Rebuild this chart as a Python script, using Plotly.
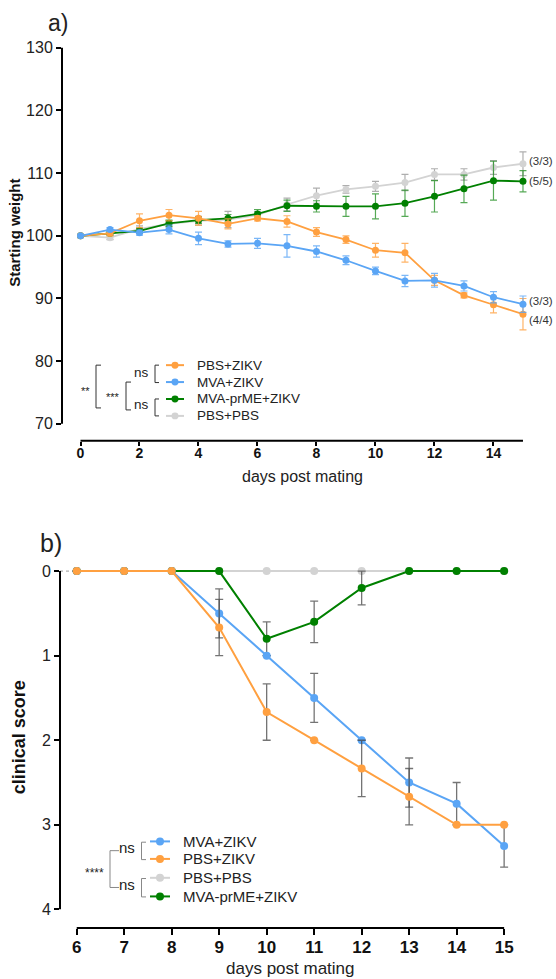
import plotly.graph_objects as go

W, H = 556, 979
FONT = "Liberation Sans, Arial, sans-serif"

# ---------------- panel a: body weight ----------------
days_a = list(range(16))
pbs_zikv_a = [100, 100.4, 102.4, 103.3, 102.8, 101.9, 102.8, 102.3, 100.6, 99.4, 97.7, 97.3, 92.9, 90.5, 89.0, 87.5]
pbs_zikv_a_sem = [0, 0.4, 1.1, 0.9, 1.1, 0.8, 0.4, 0.9, 0.7, 0.6, 1.1, 1.5, 0.8, 0.4, 1.3, 2.5]
mva_zikv_a = [100, 101.0, 100.5, 101.0, 99.6, 98.7, 98.8, 98.4, 97.5, 96.1, 94.4, 92.8, 92.9, 92.0, 90.2, 89.1]
mva_zikv_a_sem = [0, 0.3, 0.4, 0.7, 1.0, 0.5, 0.8, 1.8, 0.9, 0.7, 0.6, 0.9, 1.1, 0.8, 0.9, 1.3]
mva_prme_a = [100, 100.4, 100.8, 102.0, 102.5, 102.8, 103.5, 104.8, 104.7, 104.7, 104.7, 105.2, 106.3, 107.5, 108.8, 108.7]
mva_prme_a_sem = [0, 0.3, 0.4, 0.5, 0.5, 0.6, 0.7, 0.9, 0.9, 1.6, 2.0, 2.1, 2.5, 2.2, 3.1, 1.7]
pbs_pbs_a = [100, 99.7, 101.1, 101.9, 102.4, 102.6, 103.3, 105.0, 106.4, 107.4, 107.9, 108.5, 109.8, 109.8, 110.9, 111.5]
pbs_pbs_a_sem = [0, 0.3, 0.5, 0.5, 0.7, 1.3, 0.6, 1.0, 1.2, 0.6, 0.8, 1.3, 0.9, 0.9, 1.1, 1.9]
yticks_a = [70, 80, 90, 100, 110, 120, 130]
xticks_a = [0, 2, 4, 6, 8, 10, 12, 14]
survivors_a = ["(3/3)", "(5/5)", "(3/3)", "(4/4)"]
survivor_label_y = [111.9, 108.7, 89.6, 86.6]

# ---------------- panel b: clinical score ----------------
days_b = list(range(6, 16))
mva_zikv_b = [0, 0, 0, 0.5, 1.0, 1.5, 2.0, 2.5, 2.75, 3.25]
mva_zikv_b_sem = [0, 0, 0, 0.29, 0, 0.29, 0, 0.29, 0.25, 0.25]
pbs_zikv_b = [0, 0, 0, 0.667, 1.667, 2.0, 2.333, 2.667, 3.0, 3.0]
pbs_zikv_b_sem = [0, 0, 0, 0.333, 0.333, 0, 0.333, 0.333, 0, 0]
pbs_pbs_b = [0, 0, 0, 0, 0, 0, 0, 0, 0, 0]
mva_prme_b = [0, 0, 0, 0, 0.8, 0.6, 0.2, 0, 0, 0]
mva_prme_b_sem = [0, 0, 0, 0, 0.2, 0.245, 0.2, 0, 0, 0]
yticks_b = [0, 1, 2, 3, 4]
xticks_b = list(range(6, 16))

ORANGE = "#FFA040"
BLUE = "#5AA5F5"
GREEN = "#008000"
GREY = "#D3D3D3"


def px(x):
    return x / W


def py(y):
    return 1 - y / H


fig = go.Figure()


def add_a(y, sem, color, err_color):
    fig.add_trace(go.Scatter(
        x=days_a, y=y, mode="lines+markers", xaxis="x", yaxis="y",
        line=dict(color=color, width=1.8),
        marker=dict(color=color, size=7),
        error_y=dict(type="data", array=sem, color=err_color, thickness=1.2, width=3.5),
        cliponaxis=False, showlegend=False))


add_a(pbs_pbs_a, pbs_pbs_a_sem, GREY, "rgba(165,165,165,0.9)")
add_a(mva_prme_a, mva_prme_a_sem, GREEN, "rgba(30,140,30,0.75)")
add_a(pbs_zikv_a, pbs_zikv_a_sem, ORANGE, "rgba(255,160,64,0.8)")
add_a(mva_zikv_a, mva_zikv_a_sem, BLUE, "rgba(90,165,245,0.8)")


def add_b(y, sem, color):
    err = None
    if sem is not None:
        err = dict(type="data", array=sem, color="rgba(70,70,70,0.75)", thickness=1.3, width=4)
    fig.add_trace(go.Scatter(
        x=days_b, y=y, mode="lines+markers", xaxis="x2", yaxis="y2",
        line=dict(color=color, width=2),
        marker=dict(color=color, size=8),
        error_y=err, cliponaxis=False, showlegend=False))


add_b(pbs_pbs_b, None, GREY)
add_b(mva_prme_b, mva_prme_b_sem, GREEN)
add_b(mva_zikv_b, mva_zikv_b_sem, BLUE)
add_b(pbs_zikv_b, pbs_zikv_b_sem, ORANGE)

# axis frames: left edge at tick column, bottom edge at detached x-axis
xa_dom = [px(62), px(527.4)]
ya_dom = [py(438), py(40)]
xb_dom = [px(60), px(516)]
yb_dom = [py(927.7), py(560)]

tick_common = dict(showgrid=False, zeroline=False, showline=False, ticks="outside",
                   tickcolor="black", tickwidth=1.5)

fig.update_layout(
    width=W, height=H, margin=dict(l=0, r=0, t=0, b=0),
    paper_bgcolor="white", plot_bgcolor="white",
    font=dict(family=FONT, color="#222"),
    xaxis=dict(domain=xa_dom, anchor="y", range=[-0.627, 15.15], tickvals=xticks_a,
               ticklen=4, ticklabelstandoff=-5,
               tickfont=dict(size=14, color="#111", weight="bold"), **tick_common),
    yaxis=dict(domain=ya_dom, anchor="x", range=[67.3, 130.48], tickvals=yticks_a,
               ticklen=5, tickfont=dict(size=16, color="#222"), **tick_common),
    xaxis2=dict(domain=xb_dom, anchor="y2", range=[5.648, 15.25], tickvals=xticks_b,
                ticklen=6, ticklabelstandoff=-2,
                tickfont=dict(size=17, color="#111", weight="bold"), **tick_common),
    yaxis2=dict(domain=yb_dom, anchor="x2", range=[4.22, -0.106], tickvals=yticks_b,
                ticklen=5, tickfont=dict(size=16, color="#222"), **tick_common),
)

shapes = []
# detached axis lines
shapes.append(dict(type="line", xref="x domain", yref="y", x0=0, x1=0, y0=70, y1=130,
                   line=dict(color="black", width=2)))
shapes.append(dict(type="line", xref="x", yref="y domain", x0=0, x1=15, y0=0, y1=0,
                   line=dict(color="black", width=2)))
shapes.append(dict(type="line", xref="x2 domain", yref="y2", x0=0, x1=0, y0=0, y1=4,
                   line=dict(color="black", width=2)))
shapes.append(dict(type="line", xref="x2", yref="y2 domain", x0=6, x1=15, y0=0, y1=0,
                   line=dict(color="black", width=2)))
# dotted baseline at score 0
shapes.append(dict(type="line", xref="x2", yref="y2", x0=5.648, x1=15, y0=0, y1=0,
                   layer="below", line=dict(color="#9a9a9a", width=1, dash="dot")))

annotations = []


def text(x, y, s, size, anchor="center", bold=False, color="#222", angle=0):
    annotations.append(dict(
        x=px(x), y=py(y), xref="paper", yref="paper", text=s, showarrow=False,
        xanchor=anchor, yanchor="middle", textangle=angle,
        font=dict(family=FONT, size=size, color=color, weight="bold" if bold else "normal")))


def legend_rows(names, colors, rows, x0, x1, tx, size, msize):
    for name, col, yy in zip(names, colors, rows):
        shapes.append(dict(type="line", xref="paper", yref="paper",
                           x0=px(x0), x1=px(x1), y0=py(yy), y1=py(yy),
                           line=dict(color=col, width=2)))
        r = msize / 2
        cx = (x0 + x1) / 2
        shapes.append(dict(type="circle", xref="paper", yref="paper",
                           x0=px(cx - r), x1=px(cx + r), y0=py(yy + r), y1=py(yy - r),
                           fillcolor=col, line=dict(color=col, width=0)))
        text(tx, yy, name, size, anchor="left")


def bracket(x, y0, y1, tick, color, width=1):
    path = f"M {px(x + tick)},{py(y0)} L {px(x)},{py(y0)} L {px(x)},{py(y1)} L {px(x + tick)},{py(y1)}"
    shapes.append(dict(type="path", xref="paper", yref="paper", path=path,
                       line=dict(color=color, width=width)))


# panel a legend and significance brackets
legend_names_a = ["PBS+ZIKV", "MVA+ZIKV", "MVA-prME+ZIKV", "PBS+PBS"]
legend_colors_a = [ORANGE, BLUE, GREEN, GREY]
legend_rows(legend_names_a, legend_colors_a, [362, 379, 396, 413], 166, 184, 195, 13.5, 7)
bracket(155, 362, 379.5, 4, "#333")
bracket(155, 396, 413, 4, "#333")
bracket(126, 379, 407, 5, "#333")
bracket(96, 362, 405, 5, "#333")
text(151, 369, "ns", 13.5, anchor="right")
text(151, 402, "ns", 13.5, anchor="right")
text(122, 394, "***", 11, anchor="right")
text(92, 388, "**", 11, anchor="right")

# panel b legend and significance brackets
legend_names_b = ["MVA+ZIKV", "PBS+ZIKV", "PBS+PBS", "MVA-prME+ZIKV"]
legend_colors_b = [BLUE, ORANGE, GREY, GREEN]
legend_rows(legend_names_b, legend_colors_b, [840.7, 858.3, 877.3, 896], 150, 170, 181, 15, 8)
bracket(141.5, 841.5, 859, 4.5, "#888")
bracket(141.5, 878, 896.5, 4.5, "#888")
bracket(110, 850, 887, 9, "#888")
text(137, 847, "ns", 15, anchor="right")
text(137, 884, "ns", 15, anchor="right")
text(106, 872, "****", 12, anchor="right")

# panel letters and axis titles
text(58, 18, "a)", 23)
text(51, 541, "b)", 25)
text(15, 229, "Starting weight", 15, bold=True, angle=-90, color="#111")
text(302, 474, "days post mating", 16)
text(19, 736, "clinical score", 18, bold=True, angle=-90, color="#111")
text(290, 968, "days post mating", 17)

# surviving animals per group at day 15
for lab, yy in zip(survivors_a, survivor_label_y):
    annotations.append(dict(x=15, y=yy, xref="x", yref="y", text=lab, showarrow=False,
                            xanchor="left", yanchor="middle", xshift=4,
                            font=dict(family=FONT, size=11.5, color="#333")))

fig.update_layout(shapes=shapes, annotations=annotations)
fig.write_html("out.html")
